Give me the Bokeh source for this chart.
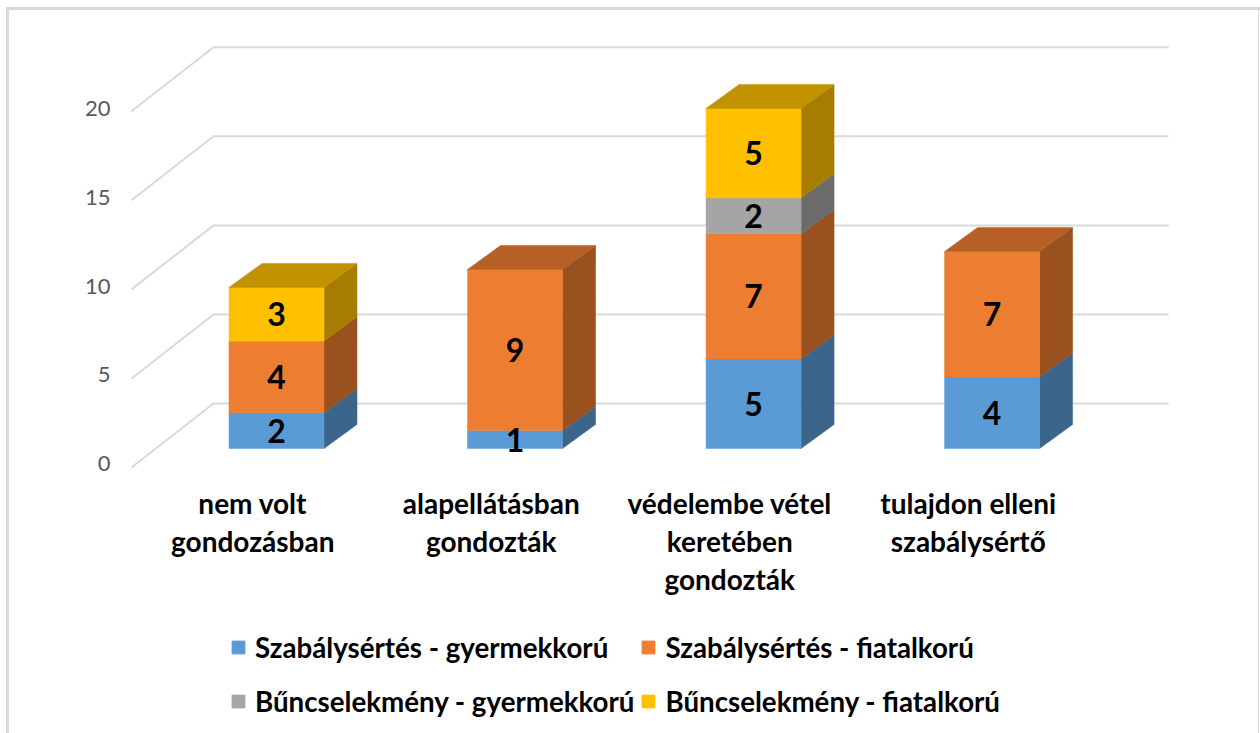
from bokeh.embed import file_html
from bokeh.resources import INLINE
from bokeh.plotting import figure
from bokeh.layouts import column
from bokeh.models import (Range1d, LinearAxis, FixedTicker, Legend, LegendItem)
from bokeh.core.properties import value

categories = ["nem volt\ngondozásban", "alapellátásban\ngondozták",
              "védelembe vétel\nkeretében\ngondozták", "tulajdon elleni\nszabálysértő"]
series_names = ["Szabálysértés - gyermekkorú", "Szabálysértés - fiatalkorú",
                "Bűncselekmény - gyermekkorú", "Bűncselekmény - fiatalkorú"]
szabalysertes_gyermek = [2, 1, 5, 4]
szabalysertes_fiatal = [4, 9, 7, 7]
buncselekmeny_gyermek = [0, 0, 2, 0]
buncselekmeny_fiatal = [3, 0, 5, 0]
y_ticks = [0, 5, 10, 15, 20]
front_colors = ["#5b9bd5", "#ed7d31", "#a5a5a5", "#ffc000"]
side_colors = ["#3c658b", "#9a5120", "#6b6b6b", "#a67d00"]
top_colors = ["#4676a3", "#b65f26", "#7e7e7e", "#c39200"]
all_series = [szabalysertes_gyermek, szabalysertes_fiatal, buncselekmeny_gyermek, buncselekmeny_fiatal]

FONT = "Lato"
X_UNIT = 238.5
Y_UNIT = 17.9
half = 47.5 / X_UNIT
depth_x = 33 / X_UNIT
depth_y = 24 / Y_UNIT
wall_x0, wall_x1, wall_x2 = -0.608, -0.264, 3.74
wall_k, wall_front, wall_back = 0.995, -1.061, 2.514

p = figure(width=1260, height=612, output_backend="svg", toolbar_location=None,
           x_range=Range1d(-0.654, 3.748), y_range=Range1d(-1.229, 23.91),
           min_border_left=120, min_border_right=90, min_border_top=20, min_border_bottom=142,
           x_axis_location=None, y_axis_location=None, outline_line_color=None,
           background_fill_alpha=0, border_fill_alpha=0)
p.grid.visible = False

xs = [[wall_x0, wall_x1, wall_x2] for _ in y_ticks]
ys = [[v * wall_k + wall_front, v * wall_k + wall_back, v * wall_k + wall_back] for v in y_ticks]
p.multi_line(xs, ys, line_color="#d9d9d9", line_width=2)

lab_x, lab_y, lab_t = [], [], []
for s, vals in enumerate(all_series):
    qx0, qx1, qb, qt = [], [], [], []
    side_x, side_y = [], []
    for i, v in enumerate(vals):
        b = sum(all_series[k][i] for k in range(s))
        t = b + v
        qx0.append(i - half); qx1.append(i + half); qb.append(b); qt.append(t)
        if v > 0:
            side_x.append([i + half, i + half + depth_x, i + half + depth_x, i + half])
            side_y.append([b, b + depth_y, t + depth_y, t])
            lab_x.append(i); lab_y.append((b + t) / 2); lab_t.append(str(v))
    p.patches(side_x, side_y, fill_color=side_colors[s], line_color=side_colors[s], line_width=0.5)
    p.quad(left=qx0, right=qx1, bottom=qb, top=qt, fill_color=front_colors[s],
           line_color=front_colors[s], line_width=0.5)

for i in range(len(categories)):
    tot = sum(vals[i] for vals in all_series)
    s = max(k for k in range(4) if all_series[k][i] > 0)
    p.patch([i - half, i + half, i + half + depth_x, i - half + depth_x],
            [tot, tot, tot + depth_y, tot + depth_y],
            fill_color=top_colors[s], line_color=top_colors[s], line_width=0.5)

p.text(lab_x, lab_y, text=lab_t, text_font=value(FONT), text_font_style="bold",
       text_font_size="32px", text_color="#000000", text_align="center", text_baseline="middle")

p.extra_y_ranges["axis"] = Range1d(-0.394, 24.96)
ya = LinearAxis(y_range_name="axis", ticker=FixedTicker(ticks=y_ticks),
                axis_line_color=None, major_tick_line_color=None, minor_tick_line_color=None,
                major_label_text_color="#595959", major_label_text_font=FONT,
                major_label_text_font_size="22px", major_label_standoff=4)
p.add_layout(ya, "left")

p.extra_x_ranges["cat"] = Range1d(-0.5545, 3.848)
xa = LinearAxis(x_range_name="cat", ticker=FixedTicker(ticks=list(range(len(categories)))),
                major_label_overrides={i: c for i, c in enumerate(categories)},
                axis_line_color=None, major_tick_line_color=None, minor_tick_line_color=None,
                major_label_text_color="#000000", major_label_text_font=FONT,
                major_label_text_font_style="bold", major_label_text_font_size="28px",
                major_label_text_line_height=1.13, major_label_standoff=9)
p.add_layout(xa, "below")

# legend strip: a second figure, so that the legend is not cut off by the chart's frame
q = figure(width=1260, height=121, output_backend="svg", toolbar_location=None,
           x_range=Range1d(0, 1), y_range=Range1d(0, 1), min_border=0,
           x_axis_location=None, y_axis_location=None, outline_line_color=None,
           background_fill_alpha=0, border_fill_alpha=0)
q.grid.visible = False
items = []
for s, name in enumerate(series_names):
    # lies outside this strip's ranges: only its legend swatch shows
    r = q.quad(left=[2], right=[3], bottom=[2], top=[3], fill_color=front_colors[s], line_color=front_colors[s])
    items.append(LegendItem(label=name, renderers=[r]))
legend = Legend(items=items, ncols=2, location=(110, 8), orientation="horizontal",
                background_fill_alpha=0, border_line_color=None, padding=0, margin=0,
                spacing=6, label_height=48, glyph_width=16, glyph_height=16, label_standoff=9,
                label_text_font=FONT, label_text_font_style="bold", label_text_font_size="27.7px",
                label_text_color="#000000")
q.add_layout(legend)

G = "linear-gradient(#d9d9d9,#d9d9d9)"
page = column(p, q, spacing=0, styles={
    "background": f"{G} 6px 7px/3px 100% no-repeat, {G} 6px 7px/100% 3px no-repeat, {G} 1258px 7px/1px 100% no-repeat, white"})

open("out.html", "w").write(file_html(page, INLINE))
